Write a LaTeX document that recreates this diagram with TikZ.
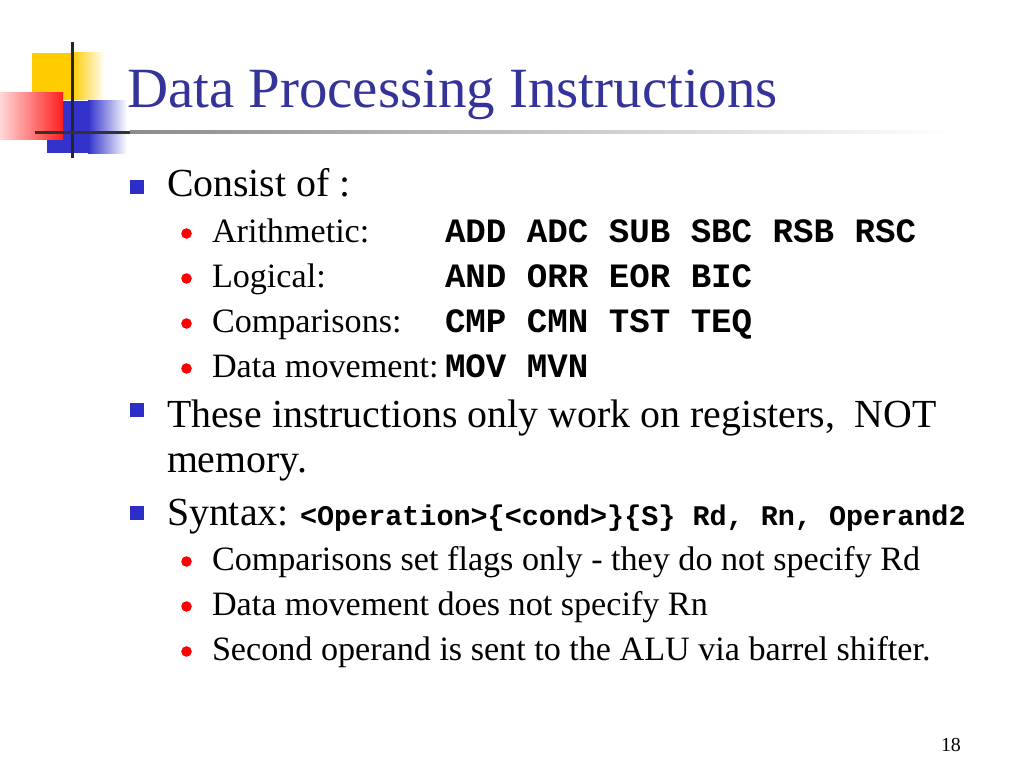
\documentclass[tikz,border=0pt]{standalone}
\usepackage{fontspec}
\setmainfont{Liberation Serif}
\newfontfamily\mono{Liberation Mono}
\definecolor{titleblue}{RGB}{51,51,153}
\definecolor{bulblue}{RGB}{45,45,200}
\definecolor{logoyellow}{RGB}{255,204,0}
\definecolor{logoblue}{RGB}{51,51,204}
\definecolor{logored}{RGB}{255,30,30}
\begin{document}
\begin{tikzpicture}[x=0.703125bp,y=-0.703125bp,
  txt/.style={anchor=base west,inner sep=0pt,outer sep=0pt},
  lone/.style={txt,font=\fontsize{28bp}{32bp}\selectfont},
  ltwo/.style={txt,font=\fontsize{24bp}{28bp}\selectfont},
  code/.style={txt,font=\fontsize{24bp}{28bp}\mono\bfseries},
  scode/.style={txt,font=\fontsize{20bp}{24bp}\mono\bfseries},
  sqbullet/.style={fill=bulblue,draw=none},
  dotbullet/.style={fill=red,draw=none}]
\useasboundingbox (0,0) rectangle (1024,768);
% logo
\fill[logoyellow] (32,53) rectangle (72,100);
\shade[left color=logoyellow,right color=white] (72,53) rectangle (105,100);
\fill[logoblue] (47,101) rectangle (88,153);
\shade[left color=logoblue,right color=white] (88,101) rectangle (127,153);
\shade[left color=red!15,right color=logored] (0,93) rectangle (63,140);
\fill[black!85] (71,42) rectangle (74,158);
\fill[black!80] (35,131) rectangle (130,134);
\shade[left color=black!45,right color=white] (130,131) rectangle (950,134);
% title
\node[txt,text=titleblue,font=\fontsize{40bp}{44bp}\selectfont] (title) at (127,108) {Data Processing Instructions};
% level one bullets
\fill[sqbullet] (130,180) rectangle (144,194);
\node[lone] (consist) at (167,196) {Consist of :};
\fill[dotbullet] (186.5,233.5) circle (5.3);
\node[ltwo] (arith) at (212,242) {Arithmetic:};
\node[code] (arithc) at (445,242) {ADD ADC SUB SBC RSB RSC};
\fill[dotbullet] (186.5,278.5) circle (5.3);
\node[ltwo] (logic) at (212,287) {Logical:};
\node[code] (logicc) at (445,287) {AND ORR EOR BIC};
\fill[dotbullet] (186.5,323.5) circle (5.3);
\node[ltwo] (comp) at (212,332) {Comparisons:};
\node[code] (compc) at (445,332) {CMP CMN TST TEQ};
\fill[dotbullet] (186.5,368.5) circle (5.3);
\node[ltwo] (move) at (212,377) {Data movement:};
\node[code] (movec) at (445,377) {MOV MVN};
\fill[sqbullet] (130,403) rectangle (144,417);
\node[lone] (these) at (167,427) {These instructions only work on registers,\ \ NOT};
\node[lone] (memory) at (167,472) {memory.};
\fill[sqbullet] (130,506) rectangle (144,520);
\node[lone] (syntax) at (167,525) {Syntax:};
\node[scode] (syntaxc) at (300,525) {<Operation>\{<cond>\}\{S\} Rd, Rn, Operand2};
\fill[dotbullet] (186.5,561.5) circle (5.3);
\node[ltwo] (s1) at (212,570) {Comparisons set flags only - they do not specify Rd};
\fill[dotbullet] (186.5,606.5) circle (5.3);
\node[ltwo] (s2) at (212,615) {Data movement does not specify Rn};
\fill[dotbullet] (186.5,651.5) circle (5.3);
\node[ltwo] (s3) at (212,660) {Second operand is sent to the ALU via barrel shifter.};
\node[txt,font=\fontsize{14bp}{16bp}\selectfont] (page) at (941,751) {18};
\end{tikzpicture}
\end{document}
